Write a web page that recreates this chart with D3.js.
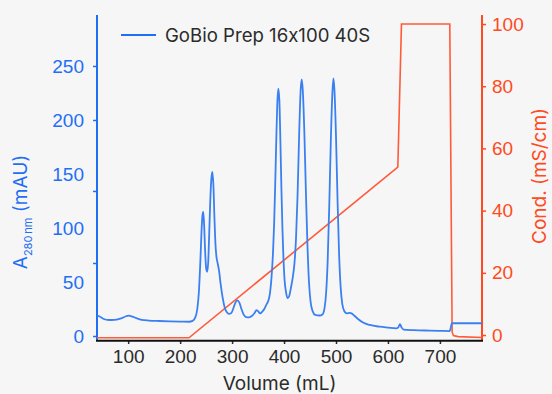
<!DOCTYPE html>
<html>
<head>
<meta charset="utf-8">
<script src="https://cdn.jsdelivr.net/npm/d3@7"></script>
<style>
  html, body { margin: 0; padding: 0; background: #f6f6f6; }
  svg { display: block; font-family: Inter, "Liberation Sans", Arial, sans-serif; font-feature-settings: "calt" 0; }
</style>
</head>
<body>
<svg id="chart"></svg>
<script>
// UV trace (A280, mAU)
const uvVolume = [40, 45, 52, 60, 68, 78, 88, 96, 101, 108, 116, 126, 140, 160, 180, 200, 217, 224, 229, 233,
  236, 239, 241, 243, 244.5, 246, 248, 250, 252, 254, 256, 258, 260, 262, 264, 266, 268, 270, 272, 275,
  278, 282, 286, 290, 294, 298, 302, 306, 310, 314, 318, 322, 327, 333, 338, 343, 347, 350, 354, 358,
  362, 366, 370, 373, 376, 379, 381, 383, 385, 387, 389, 391, 393, 395, 397, 399, 401, 404, 407, 410,
  413, 417, 420, 423, 426, 429, 432, 434, 436, 439, 442, 445, 448, 451, 455, 460, 468, 474, 478, 481,
  484, 487, 490, 493, 495, 497, 500, 503, 506, 509, 512, 516, 521, 526, 530, 536, 543, 552, 565, 584,
  600, 616, 620, 623, 626, 630, 650, 680, 700, 719, 721, 723, 740, 760, 781];
const uvAbs = [19, 18, 16, 15, 14.8, 15.2, 16.5, 18.3, 18.8, 18, 16.5, 15, 14.3, 13.9, 13.6, 13.4, 13.2, 14, 17, 25,
  40, 70, 95, 112, 115, 105, 80, 63, 59.5, 68, 95, 125, 145, 152, 140, 110, 85, 73, 68, 60,
  48, 35, 26, 22, 20.5, 21, 25, 30.5, 33, 31, 25, 20, 17.5, 17.3, 18.5, 21, 24, 23, 21, 22.5,
  25, 29, 33, 40, 55, 80, 105, 140, 180, 215, 229, 218, 180, 135, 98, 70, 52, 40, 35, 37,
  44, 55, 67, 90, 130, 185, 228, 237.6, 228, 190, 135, 85, 50, 32, 23, 19.5, 19, 20, 26, 40,
  70, 120, 180, 225, 238.6, 228, 185, 125, 75, 45, 30, 23, 21, 21.5, 21, 18.5, 15.5, 12.5, 10.2, 8.6,
  7.8, 7.1, 8, 11, 8, 6, 5.4, 5, 4.8, 4.6, 8, 11.8, 11.8, 11.8, 11.8];

// conductivity trace (mS/cm)
const condVolume = [40, 217, 619, 626, 719, 723.5, 726, 735, 781];
const condValue = [-0.9, -0.9, 54, 100, 100, 1, -0.2, -0.5, -0.8];

const xTicks = [100, 200, 300, 400, 500, 600, 700];
const uvTickLabels = [0, 50, 100, 150, 200, 250];
const uvTickMarks = [0, 67.6, 134.3, 200, 250];
const condTicks = [0, 20, 40, 60, 80, 100];

const legendLabel = 'GoBio Prep 16x100 40S';

const blue = '#1f6ff5';
const blueLine = '#3a80f0';
const orange = '#ff4a22';
const orangeLine = '#ff5a3a';
const ink = '#2b2b2b';

document.addEventListener('DOMContentLoaded', function () {
    const W = 552, H = 394;
    const left = 97, right = 482, top = 15, bottom = 340;

    const svg = d3.select('#chart').attr('width', W).attr('height', H);

    const xScale = d3.scaleLinear().domain([40, 781]).range([left, right]);
    const yUV = d3.scaleLinear().domain([-3.7, 297.2]).range([bottom, top]);
    const yCond = d3.scaleLinear().domain([-1.6, 102.9]).range([bottom, top]);

    const uvData = uvVolume.map((v, i) => ({ v: v, a: uvAbs[i] }));
    const condData = condVolume.map((v, i) => ({ v: v, c: condValue[i] }));

    // left axis (A280)
    const gL = svg.append('g').attr('transform', `translate(${left},0)`);
    gL.call(d3.axisLeft(yUV).tickValues(uvTickLabels).tickSize(0).tickPadding(13));
    gL.select('.domain').remove();
    gL.selectAll('text').attr('fill', blue).style('font-size', '19px').style('font-family', null);
    const gLm = svg.append('g').attr('transform', `translate(${left},0)`);
    gLm.call(d3.axisLeft(yUV).tickValues(uvTickMarks).tickSize(4).tickFormat(''));
    gLm.select('.domain').remove();
    gLm.selectAll('line').attr('stroke', blue).attr('stroke-width', 1.5);
    svg.append('line').attr('x1', left).attr('x2', left).attr('y1', top).attr('y2', bottom)
        .attr('stroke', blue).attr('stroke-width', 2);

    // right axis (conductivity)
    const gR = svg.append('g').attr('transform', `translate(${right},0)`);
    gR.call(d3.axisRight(yCond).tickValues(condTicks).tickSize(4).tickPadding(6));
    gR.select('.domain').remove();
    gR.selectAll('line').attr('stroke', orange).attr('stroke-width', 1.5);
    gR.selectAll('text').attr('fill', orange).style('font-size', '19px').style('font-family', null);
    svg.append('line').attr('x1', right).attr('x2', right).attr('y1', top).attr('y2', bottom)
        .attr('stroke', orange).attr('stroke-width', 2);

    // traces
    svg.append('path').datum(condData)
        .attr('fill', 'none').attr('stroke', orangeLine).attr('stroke-width', 1.6)
        .attr('d', d3.line().x(d => xScale(d.v)).y(d => yCond(d.c)));

    svg.append('path').datum(uvData)
        .attr('fill', 'none').attr('stroke', blueLine).attr('stroke-width', 1.8)
        .attr('stroke-linejoin', 'round')
        .attr('d', d3.line().curve(d3.curveMonotoneX).x(d => xScale(d.v)).y(d => yUV(d.a)));

    // bottom axis
    const gB = svg.append('g').attr('transform', `translate(0,${bottom})`);
    gB.call(d3.axisBottom(xScale).tickValues(xTicks).tickSize(4).tickPadding(6));
    gB.select('.domain').remove();
    gB.selectAll('line').attr('stroke', ink).attr('stroke-width', 1.5);
    gB.selectAll('text').attr('fill', ink).style('font-size', '19px').style('font-family', null);
    svg.append('line').attr('x1', left - 1).attr('x2', right + 1).attr('y1', bottom + 0.7).attr('y2', bottom + 0.7)
        .attr('stroke', '#111').attr('stroke-width', 2);

    // legend
    svg.append('line').attr('x1', 121).attr('x2', 156).attr('y1', 35).attr('y2', 35)
        .attr('stroke', blue).attr('stroke-width', 2);
    svg.append('text').attr('x', 165).attr('y', 35).attr('dy', '0.35em')
        .attr('fill', ink).style('font-size', '18.6px').text(legendLabel);

    // axis titles
    svg.append('text').attr('x', (left + right) / 2 - 10).attr('y', 390)
        .attr('text-anchor', 'middle').attr('fill', ink).style('font-size', '19px').text('Volume (mL)');

    const yl = svg.append('text').attr('transform', 'translate(27,212) rotate(-90)')
        .attr('text-anchor', 'middle').attr('fill', blue).style('font-size', '19px');
    yl.append('tspan').text('A');
    yl.append('tspan').attr('dy', 5).style('font-size', '11px').text('280\u2009nm');
    yl.append('tspan').attr('dy', -5).text(' (mAU)');

    svg.append('text').attr('transform', 'translate(546,176) rotate(-90)')
        .attr('text-anchor', 'middle').attr('fill', orange).style('font-size', '19px').text('Cond. (mS/cm)');
});
</script>
</body>
</html>
